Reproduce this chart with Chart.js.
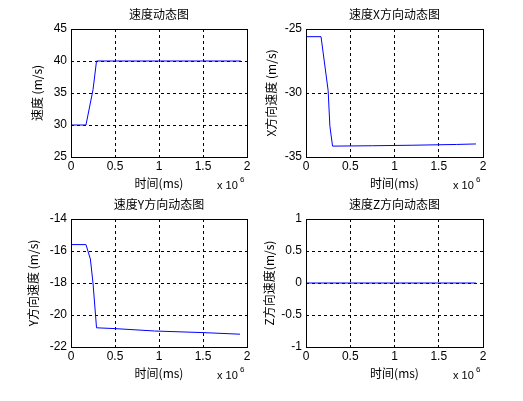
<!DOCTYPE html>
<html><head><meta charset="utf-8">
<script src="https://cdn.jsdelivr.net/npm/chart.js@4.4.0/dist/chart.umd.min.js"></script>
<style>
body{margin:0;background:#fff;width:523px;height:401px;position:relative;overflow:hidden}
.c{position:absolute}
</style></head><body>
<div class="c" style="left:0;top:0;width:260px;height:200px"><canvas id="c1"></canvas></div>
<div class="c" style="left:260px;top:0;width:263px;height:200px"><canvas id="c2"></canvas></div>
<div class="c" style="left:0;top:189px;width:260px;height:212px"><canvas id="c3"></canvas></div>
<div class="c" style="left:260px;top:189px;width:263px;height:212px"><canvas id="c4"></canvas></div>
<script>
// time in units of 1e6 ms
const t1 = [0, 0.17, 0.25, 0.29, 1.93];
const speed = [30, 30, 35.5, 40, 40];
const t2 = [0, 0.17, 0.25, 0.27, 0.3, 0.75, 1.2, 1.7, 1.92];
const vx = [-25.6, -25.6, -29.8, -32.6, -34.15, -34.12, -34.08, -34.02, -33.98];
const t3 = [0, 0.17, 0.22, 0.25, 0.29, 0.5, 0.95, 1.5, 1.92];
const vy = [-15.6, -15.6, -16.5, -18, -20.8, -20.85, -21.0, -21.1, -21.2];
const t4 = [0, 1.92];
const vz = [0, 0];

const FONT = "'Liberation Sans', Arial, sans-serif";
const CJK = "'Noto Sans CJK SC', sans-serif";

const frame = {
    id: 'frame',
    afterDraw(chart, args, opts) {
        const ctx = chart.ctx, a = chart.chartArea;
        ctx.save();
        ctx.strokeStyle = '#000';
        ctx.lineWidth = 1;
        ctx.strokeRect(a.left + 0.5, a.top + 0.5, a.right - a.left, a.bottom - a.top);
        ctx.fillStyle = '#000';
        ctx.textAlign = 'center';
        ctx.font = '12px ' + CJK;
        ctx.fillText(opts.title, (a.left + a.right) / 2, a.top - 10);
        ctx.font = '11px ' + FONT;
        ctx.textAlign = 'left';
        ctx.fillText('x 10', a.right - 30, a.bottom + 32);
        ctx.font = '8px ' + FONT;
        ctx.fillText('6', a.right - 7, a.bottom + 25);
        ctx.restore();
    }
};

function makeChart(id, xs, ys, title, ylabel, ymin, ymax, ystep, pad) {
    const gridColor = c => (c.index === 0 || c.index === c.scale.ticks.length - 1) ? 'rgba(0,0,0,0)' : '#000';
    new Chart(document.getElementById(id), {
        type: 'line',
        data: { datasets: [{ data: xs.map((x, i) => ({ x: x, y: ys[i] })), borderColor: '#0000ff', borderWidth: 1, pointRadius: 0, tension: 0 }] },
        options: {
            responsive: true, maintainAspectRatio: false, animation: false,
            layout: { padding: { top: pad.top, right: pad.right, left: pad.left, bottom: pad.bottom } },
            plugins: { legend: { display: false }, tooltip: { enabled: false }, frame: { title: title } },
            scales: {
                x: {
                    type: 'linear', min: 0, max: 2,
                    ticks: { stepSize: 0.5, color: '#000', font: { family: FONT, size: 12 }, padding: 2, maxRotation: 0,
                        callback: v => String(v) },
                    grid: { color: gridColor, tickLength: 0, lineWidth: 1 },
                    border: { display: false, dash: [3, 3] },
                    title: { display: true, text: '时间(ms)', color: '#000', font: { family: CJK, size: 12 }, padding: 0 },
                    afterFit: s => { s.height = 34; }
                },
                y: {
                    min: ymin, max: ymax,
                    ticks: { stepSize: ystep, color: '#000', font: { family: FONT, size: 12 }, padding: 4,
                        callback: v => String(v) },
                    grid: { color: gridColor, tickLength: 0, lineWidth: 1 },
                    border: { display: false, dash: [3, 3] },
                    title: { display: true, text: ylabel, color: '#000', font: { family: CJK, size: 12 }, padding: 0 },
                    afterFit: s => { s.width = pad.yw; }
                }
            }
        },
        plugins: [frame]
    });
}

makeChart('c1', t1, speed, '速度动态图', '速度 (m/s)', 25, 45, 5, { top: 29, right: 13, left: 30, bottom: 9, yw: 41 });
makeChart('c2', t2, vx, '速度X方向动态图', 'X方向速度 (m/s)', -35, -25, 5, { top: 29, right: 40, left: 4, bottom: 9, yw: 42 });
makeChart('c3', t3, vy, '速度Y方向动态图', 'Y方向速度 (m/s)', -22, -14, 2, { top: 30, right: 13, left: 26, bottom: 20, yw: 45 });
makeChart('c4', t4, vz, '速度Z方向动态图', 'Z方向速度(m/s)', -1, 1, 0.5, { top: 30, right: 40, left: 2, bottom: 20, yw: 44 });
</script>
</body></html>
